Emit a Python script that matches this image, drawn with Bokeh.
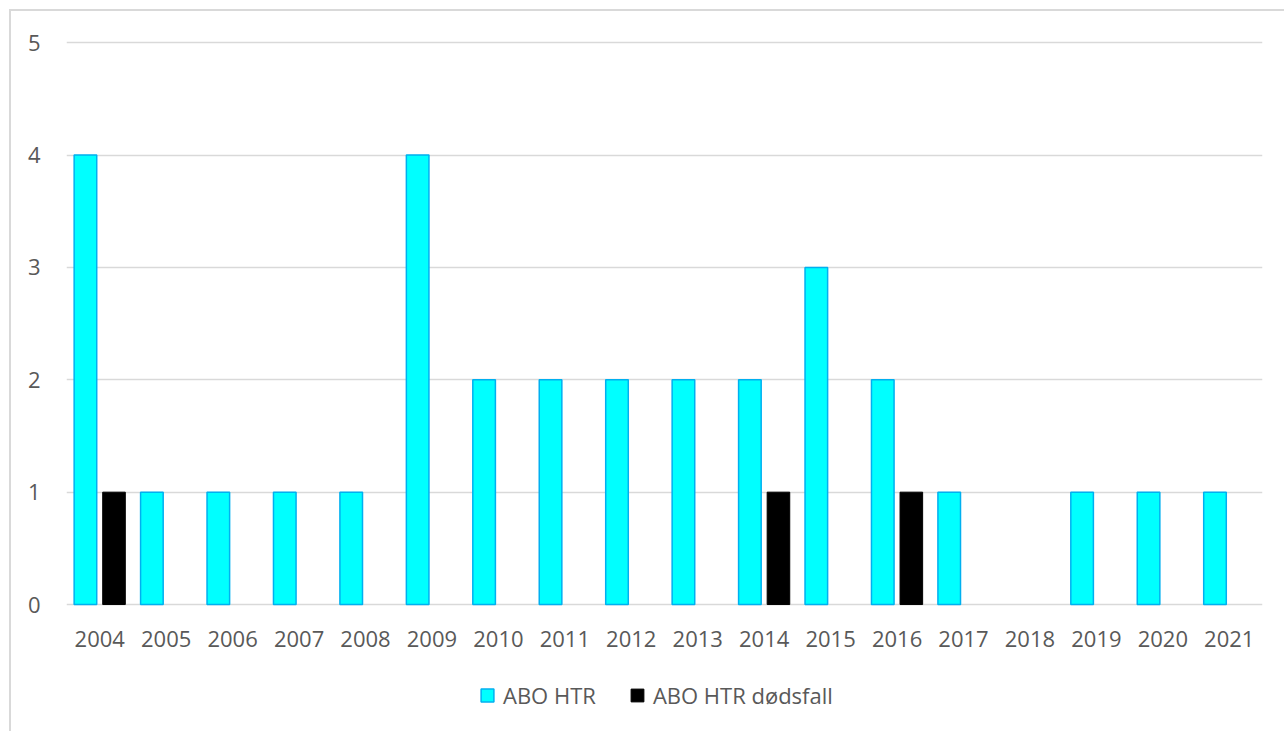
from bokeh.plotting import figure
from bokeh.models import (ColumnDataSource, FactorRange, Range1d, FixedTicker,
                          Legend, LegendItem)
from bokeh.core.properties import value
from bokeh.transform import dodge
from bokeh.embed import file_html
from bokeh.resources import INLINE

years = ["2004", "2005", "2006", "2007", "2008", "2009", "2010", "2011", "2012",
         "2013", "2014", "2015", "2016", "2017", "2018", "2019", "2020", "2021"]
abo_htr = [4, 1, 1, 1, 1, 4, 2, 2, 2, 2, 2, 3, 2, 1, 0, 1, 1, 1]
abo_htr_dodsfall = [1, 0, 0, 0, 0, 0, 0, 0, 0, 0, 1, 0, 1, 0, 0, 0, 0, 0]
y_ticks = [0, 1, 2, 3, 4, 5]

series_names = ["ABO HTR", "ABO HTR dødsfall"]

FONT = "Open Sans"
TEXT_COLOR = "#595959"
GRID_COLOR = "#d9d9d9"


def nonzero(values):
    keep = [(y, v) for y, v in zip(years, values) if v > 0]
    return ColumnDataSource(dict(year=[k[0] for k in keep], value=[k[1] for k in keep]))


# The frame reaches down to the canvas bottom so the category labels and
# the legend live inside it, below the zero line.
p = figure(
    frame_width=1196, frame_height=691,
    x_range=FactorRange(*years, range_padding=0),
    y_range=Range1d(-1.13, 5.02),
    output_backend="svg", toolbar_location=None,
    min_border_left=55, min_border_right=22, min_border_top=29, min_border_bottom=0,
)
p.styles = {
    "margin-left": "9px", "margin-top": "9px",
    "border-left": f"2px solid {GRID_COLOR}", "border-top": f"2px solid {GRID_COLOR}",
}
p.outline_line_color = None
p.background_fill_color = "white"
p.border_fill_color = "white"

src_a = nonzero(abo_htr)
src_b = nonzero(abo_htr_dodsfall)

bars_a = p.vbar(x=dodge("year", -0.215, range=p.x_range), top="value", bottom=0,
                width=0.34, source=src_a, fill_color="#00ffff",
                line_color="#00b0f0", line_width=1.5)
bars_b = p.vbar(x=dodge("year", 0.215, range=p.x_range), top="value", bottom=0,
                width=0.34, source=src_b, fill_color="#000000",
                line_color="#000000", line_width=1)

# category labels under the zero line
p.text(x=years, y=[0] * len(years), text=years, y_offset=34,
       text_align="center", text_baseline="middle",
       text_font=value(FONT), text_font_size="22px", text_color=TEXT_COLOR)

p.yaxis.ticker = FixedTicker(ticks=y_ticks)
p.ygrid.ticker = FixedTicker(ticks=y_ticks)
p.ygrid.grid_line_color = GRID_COLOR
p.ygrid.grid_line_width = 1.5
p.xgrid.grid_line_color = None
p.xaxis.visible = False

yax = p.yaxis[0]
yax.axis_line_color = None
yax.major_tick_line_color = None
yax.minor_tick_line_color = None
yax.major_label_text_font = FONT
yax.major_label_text_font_size = "22px"
yax.major_label_text_color = TEXT_COLOR
yax.major_label_standoff = 20

legend = Legend(
    items=[LegendItem(label=series_names[0], renderers=[bars_a]),
           LegendItem(label=series_names[1], renderers=[bars_b])],
    orientation="horizontal", location=(413, 21),
    glyph_width=16, glyph_height=16, label_standoff=8, spacing=33,
    label_text_font=FONT, label_text_font_size="22px", label_text_color=TEXT_COLOR,
    border_line_color=None, background_fill_alpha=0,
    padding=0, margin=0,
)
p.add_layout(legend, "center")

open("out.html", "w").write(file_html(p, INLINE))
